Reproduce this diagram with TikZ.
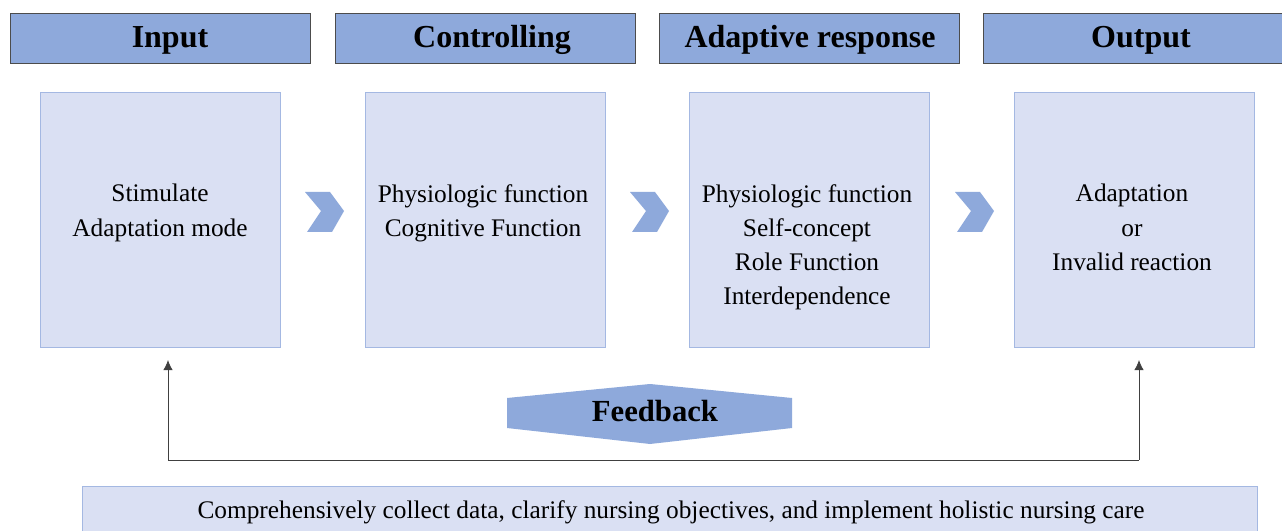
\documentclass[tikz,border=0pt]{standalone}
\usepackage{fontspec}
\setmainfont{Liberation Serif}
\usetikzlibrary{arrows.meta}
\begin{document}
\begin{tikzpicture}[x=0.75pt,y=-0.75pt,
  header/.style={draw=black!70, fill=hdrblue, line width=0.6pt, minimum width=300*0.75pt, minimum height=50*0.75pt, inner sep=0pt},
  headtext/.style={anchor=base, inner sep=0pt, font=\fontsize{24}{28}\selectfont\bfseries},
  content/.style={draw=boxedge, fill=boxfill, line width=0.6pt, minimum width=240*0.75pt, minimum height=255*0.75pt, inner sep=0pt},
  body/.style={align=center, font=\fontsize{19}{25.7}\selectfont, anchor=north, inner sep=0pt},
  fbline/.style={draw=black!75, line width=0.6pt},
  fbarrow/.style={fbline, -{Latex[length=7.5pt,width=7pt]}}
]
\definecolor{hdrblue}{HTML}{8EA9DB}
\definecolor{boxfill}{HTML}{DAE0F3}
\definecolor{boxedge}{HTML}{A4B8E2}
\useasboundingbox (0,0) rectangle (1282,531);
\fill[white] (0,0) rectangle (1282,531);

% column headers
\node[header] (hin)  at (160,38) {};
\node[header] (hctl) at (485,38) {};
\node[header] (hadp) at (809,38) {};
\node[header] (hout) at (1133,38) {};
\node[headtext] (lin)  at (170,48) {Input};
\node[headtext] (lctl) at (492,48) {Controlling};
\node[headtext] (ladp) at (810,48) {Adaptive response};
\node[headtext] (lout) at (1141,48) {Output};

% content boxes
\node[content] (bin)  at (160,219.5) {};
\node[content] (bctl) at (485,219.5) {};
\node[content] (badp) at (809,219.5) {};
\node[content] (bout) at (1134,219.5) {};

\node[body] (tin)  at (160,184) {Stimulate\\Adaptation mode};
\node[body] (tctl) at (483,184) {Physiologic function\\Cognitive Function};
\node[body] (tadp) at (807,184) {Physiologic function\\Self-concept\\Role Function\\Interdependence};
\node[body] (tout) at (1132,184) {Adaptation\\or\\Invalid reaction};

% chevrons between stages
\foreach \cx in {305,630,955}{
  \fill[hdrblue] (\cx,192) -- (\cx+25,192) -- (\cx+39,211) -- (\cx+27,232) -- (\cx+2,232) -- (\cx+16,211) -- cycle;
}

% feedback banner
\fill[hdrblue] (507,398) -- (650,384) -- (792,398) -- (792,428) -- (650,444) -- (507,428) -- cycle;
\node[anchor=base, inner sep=0pt, font=\fontsize{23}{27}\selectfont\bfseries] (fb) at (655,421) {Feedback};

% feedback loop
\coordinate (fl) at (168,460);
\coordinate (fr) at (1139,460);
\coordinate (al) at (168,360);
\coordinate (ar) at (1139,360);
\draw[fbline] (fl) -- (fr);
\draw[fbarrow] (fl) -- (al);
\draw[fbarrow] (fr) -- (ar);

% bottom banner
\node[draw=boxedge, fill=boxfill, line width=0.6pt, minimum width=1175*0.75pt, minimum height=60*0.75pt, inner sep=0pt, anchor=north west] (care) at (82,486) {};
\node[anchor=base, inner sep=0pt, font=\fontsize{19}{22}\selectfont] (caret) at (671,518) {Comprehensively collect data, clarify nursing objectives, and implement holistic nursing care};
\end{tikzpicture}
\end{document}
